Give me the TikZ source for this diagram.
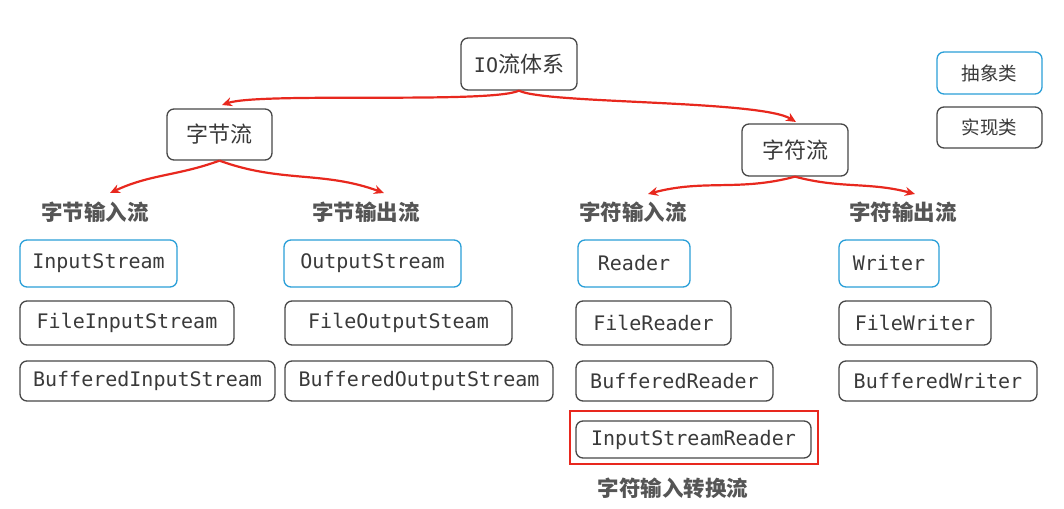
\documentclass[tikz,border=0pt]{standalone}
\usepackage{fontspec}
\setmonofont{DejaVu Sans Mono}
\newfontfamily\cjk{Noto Sans CJK SC}
\usetikzlibrary{arrows.meta}
\definecolor{absblue}{HTML}{2A9FD8}
\definecolor{implgray}{HTML}{484848}
\definecolor{txt}{HTML}{3A3A3A}
\definecolor{headc}{HTML}{555555}
\definecolor{arrred}{HTML}{E8281E}
\begin{document}
\begin{tikzpicture}[x=1pt,y=-1pt,
  box/.style={rounded corners=7pt, line width=1.3pt, inner sep=0pt, text=txt, align=center},
  abs/.style={box, draw=absblue},
  impl/.style={box, draw=implgray},
  code/.style={font=\fontsize{20}{23}\selectfont\ttfamily},
  zh/.style={font=\fontsize{22}{26}\selectfont\cjk},
  head/.style={font=\fontsize{21.5}{25}\selectfont\cjk\bfseries, text=headc, inner sep=0pt},
  arr/.style={draw=arrred, line width=2.2pt, -{Stealth[length=10pt,width=9pt]}}
]
\useasboundingbox[fill=white] (0,0) rectangle (1064,508);

% top levels
\node[impl, minimum width=116, minimum height=52] (io) at (519,64) {{\fontsize{20}{23}\selectfont\ttfamily IO}{\fontsize{22}{26}\selectfont\cjk 流体系}};
\node[impl, zh, minimum width=105, minimum height=51] (zj) at (219.5,134.5) {字节流};
\node[impl, zh, minimum width=106, minimum height=52] (zf) at (795,150) {字符流};

% legend
\node[abs, font=\fontsize{18.5}{22}\selectfont\cjk, minimum width=105, minimum height=42] (lg1) at (989.5,73) {抽象类};
\node[impl, font=\fontsize{18.5}{22}\selectfont\cjk, minimum width=105, minimum height=41] (lg2) at (989.5,127.5) {实现类};

% headings
\node[head] (h1) at (95,212) {字节输入流};
\node[head] (h2) at (366,212) {字节输出流};
\node[head] (h3) at (633,212) {字符输入流};
\node[head] (h4) at (903,212) {字符输出流};

% row 1
\node[abs, code, minimum width=157, minimum height=47] (is) at (98.5,263.5) {InputStream};
\node[abs, code, minimum width=177, minimum height=47] (os) at (372.5,263.5) {OutputStream};
\node[abs, code, minimum width=112, minimum height=47] (rd) at (634,263.5) {Reader};
\node[abs, code, minimum width=100, minimum height=47] (wr) at (889,263.5) {Writer};
% row 2
\node[impl, code, minimum width=214, minimum height=44] (fis) at (127,323) {FileInputStream};
\node[impl, code, minimum width=227, minimum height=44] (fos) at (398.5,323) {FileOutputSteam};
\node[impl, code, minimum width=155, minimum height=44] (frd) at (653.5,323) {FileReader};
\node[impl, code, minimum width=152, minimum height=44] (fwr) at (915,323) {FileWriter};
% row 3
\node[impl, code, minimum width=255, minimum height=40] (bis) at (147.5,381) {BufferedInputStream};
\node[impl, code, minimum width=268, minimum height=40] (bos) at (419,381) {BufferedOutputStream};
\node[impl, code, minimum width=197, minimum height=40] (brd) at (674.5,381) {BufferedReader};
\node[impl, code, minimum width=198, minimum height=40] (bwr) at (938,381) {BufferedWriter};
% row 4
\node[impl, code, minimum width=235, minimum height=37] (isr) at (693.5,439.5) {InputStreamReader};
\node[draw=arrred, line width=1.5pt, minimum width=248, minimum height=53, inner sep=0pt] (hl) at (694,437.5) {};
\node[head] (h5) at (673,488) {字符输入转换流};

% arrow ends
\coordinate (t1) at (222,105);
\coordinate (t2) at (796,122);
\coordinate (t3) at (110,193);
\coordinate (t4) at (384,193);
\coordinate (t5) at (648,194);
\coordinate (t6) at (915,194);

\draw[arr] (io.south) .. controls (490,104) and (260,92) .. (t1);
\draw[arr] (io.south) .. controls (545,104) and (760,100) .. (t2);
\draw[arr] (zj.south) to[out=200,in=25] (t3);
\draw[arr] (zj.south) to[out=-20,in=160] (t4);
\draw[arr] (zf.south) to[out=195,in=15] (t5);
\draw[arr] (zf.south) to[out=-15,in=165] (t6);
\end{tikzpicture}
\end{document}
